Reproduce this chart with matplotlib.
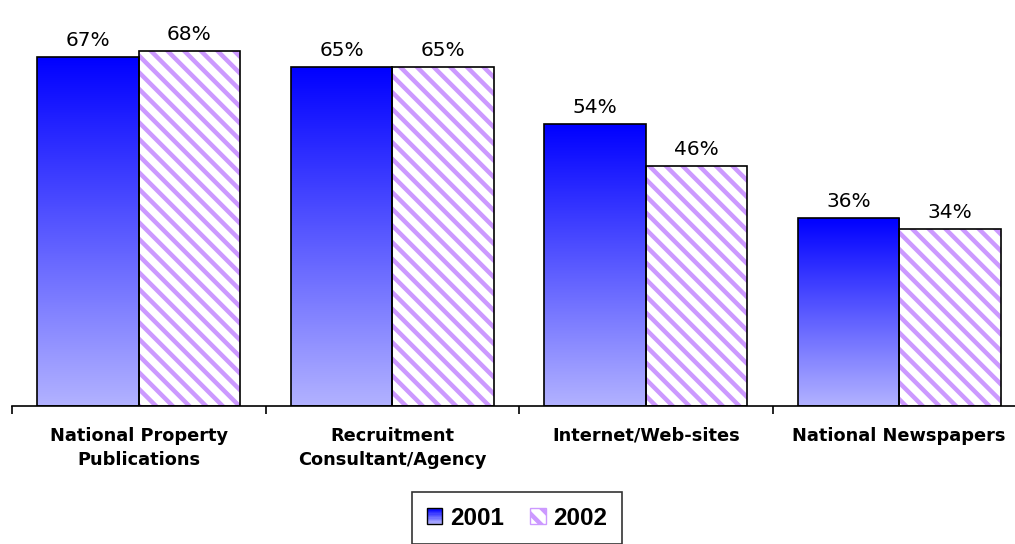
import matplotlib.pyplot as plt
import matplotlib.patches as mpatches
from matplotlib.legend_handler import HandlerBase
import numpy as np

categories = ['National Property\nPublications', 'Recruitment\nConsultant/Agency',
              'Internet/Web-sites', 'National Newspapers']
values_2001 = [67, 65, 54, 36]
values_2002 = [68, 65, 46, 34]
series_names = ['2001', '2002']

blue_top = np.array([0, 0, 255]) / 255
blue_bottom = np.array([178, 178, 255]) / 255
hatch_color = '#CC99FF'

plt.rcParams['hatch.linewidth'] = 3.2


class GradientHandler(HandlerBase):
    # legend key drawn as a stack of thin strips going from dark to light blue
    def create_artists(self, legend, orig_handle, xdescent, ydescent,
                       width, height, fontsize, trans):
        n = 12
        arts = []
        for i in range(n):
            t = i / (n - 1)
            c = blue_top * (1 - t) + blue_bottom * t
            r = mpatches.Rectangle((-xdescent, -ydescent + height * (1 - (i + 1) / n)),
                                   width, height / n, facecolor=c, edgecolor='none',
                                   transform=trans)
            arts.append(r)
        arts.append(mpatches.Rectangle((-xdescent, -ydescent), width, height,
                                       facecolor='none', edgecolor='black',
                                       linewidth=1.0, transform=trans))
        return arts


fig = plt.figure(figsize=(10.15, 5.44), dpi=100)
ax = fig.add_axes([12 / 1015, 1 - 406 / 544, 1014 / 1015, (406 - 20) / 544])

x = np.arange(len(categories))
width = 0.4

bars1 = ax.bar(x - width / 2, values_2001, width, facecolor='none',
               edgecolor='black', linewidth=1.2, zorder=3)
bars2 = ax.bar(x + width / 2, values_2002, width, facecolor='white',
               edgecolor=hatch_color, hatch='\\\\', linewidth=0, zorder=2)
ax.bar(x + width / 2, values_2002, width, facecolor='none',
       edgecolor='black', linewidth=1.2, zorder=3)

# vertical gradient fill for the 2001 bars
grad = np.linspace(0, 1, 256)[:, None, None]
img = blue_top * (1 - grad) + blue_bottom * grad
for bar in bars1:
    x0, h, w = bar.get_x(), bar.get_height(), bar.get_width()
    im = ax.imshow(img, extent=[x0, x0 + w, 0, h], aspect='auto',
                   origin='upper', zorder=2, interpolation='bilinear')
    im.set_clip_path(bar)

for bars, vals in [(bars1, values_2001), (bars2, values_2002)]:
    for bar, v in zip(bars, vals):
        ax.annotate(f'{v}%', xy=(bar.get_x() + bar.get_width() / 2, v),
                    xytext=(0, 5), textcoords='offset points', ha='center',
                    va='bottom', fontsize=14.5, color='black')

ax.set_xlim(-0.5, len(categories) - 0.5)
ax.set_ylim(0, 74)
for side in ['top', 'right', 'left']:
    ax.spines[side].set_visible(False)
ax.spines['bottom'].set_linewidth(1.2)
ax.set_yticks([])
ax.set_xticks(x)
ax.set_xticklabels(categories, fontsize=12.8, fontweight='bold', linespacing=1.45)
ax.tick_params(axis='x', which='major', length=0, pad=15)
ax.set_xticks(np.arange(len(categories) + 1) - 0.5, minor=True)
ax.tick_params(axis='x', which='minor', length=6, width=1.2, direction='out')

handles = [mpatches.Patch(facecolor='#7070FF', edgecolor='black'),
           mpatches.Patch(facecolor='white', edgecolor=hatch_color, hatch='\\\\')]
leg = fig.legend(handles, series_names, loc='upper center',
                 bbox_to_anchor=(517 / 1015, 1 - 492 / 544), ncol=2,
                 frameon=True, fancybox=False, edgecolor='black',
                 prop={'family': 'Liberation Sans', 'weight': 'bold', 'size': 17.5},
                 handlelength=0.65, handleheight=0.65, handletextpad=0.3,
                 columnspacing=1.1, borderpad=0.6, borderaxespad=0,
                 handler_map={handles[0]: GradientHandler()})
leg.get_frame().set_linewidth(1.2)

fig.savefig('out.png', dpi=100)
